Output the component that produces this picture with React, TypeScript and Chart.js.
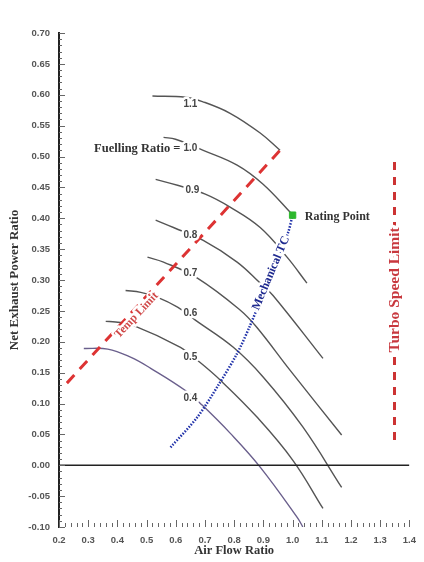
import React, { useEffect, useRef } from 'react';
import { Chart, registerables } from 'chart.js';
Chart.register(...registerables);

// ---- data ----
const xTicksMin = 0.2;
const xTicksMax = 1.4;
const yTicksMin = -0.1;
const yTicksMax = 0.7;

const fuelRatios = ['1.1', '1.0', '0.9', '0.8', '0.7', '0.6', '0.5', '0.4'];

const curve11 = [[0.520, 0.598], [0.633, 0.596], [0.691, 0.589], [0.786, 0.570], [0.889, 0.538], [0.957, 0.510]];
const curve10 = [[0.558, 0.531], [0.599, 0.528], [0.694, 0.510], [0.810, 0.486], [0.899, 0.455], [1.001, 0.405]];
const curve09 = [[0.531, 0.463], [0.609, 0.453], [0.701, 0.439], [0.786, 0.418], [0.889, 0.385], [0.981, 0.337], [1.049, 0.295]];
const curve08 = [[0.531, 0.397], [0.592, 0.385], [0.694, 0.364], [0.810, 0.329], [0.889, 0.295], [0.933, 0.275], [1.104, 0.173]];
const curve07 = [[0.503, 0.337], [0.558, 0.329], [0.674, 0.303], [0.821, 0.251], [0.878, 0.223], [0.991, 0.154], [1.168, 0.049]];
const curve06 = [[0.428, 0.283], [0.480, 0.280], [0.538, 0.272], [0.606, 0.256], [0.667, 0.235], [0.797, 0.191], [0.899, 0.143], [1.035, 0.062], [1.168, -0.036]];
const curve05 = [[0.360, 0.233], [0.394, 0.232], [0.452, 0.227], [0.616, 0.191], [0.674, 0.170], [0.752, 0.138], [0.878, 0.078], [1.001, 0.008], [1.104, -0.070]];
const curve04 = [[0.285, 0.189], [0.367, 0.188], [0.445, 0.175], [0.514, 0.157], [0.633, 0.121], [0.691, 0.097], [0.786, 0.052], [0.889, -0.003], [1.018, -0.086], [1.035, -0.100]];
const fuelCurves = [curve11, curve10, curve09, curve08, curve07, curve06, curve05, curve04];

// label anchor (data coords) for each fuelling ratio
const fuelLabelX = [0.650, 0.650, 0.657, 0.650, 0.650, 0.650, 0.650, 0.650];
const fuelLabelY = [0.585, 0.513, 0.445, 0.372, 0.311, 0.246, 0.175, 0.109];

const tempLimit = [[0.227, 0.133], [0.957, 0.510]];
const turboLimit = [[1.349, 0.491], [1.349, 0.037]];
const mechanicalTC = [[0.582, 0.029], [0.674, 0.078], [0.746, 0.130], [0.810, 0.181], [0.855, 0.227], [0.919, 0.301], [0.984, 0.376], [1.000, 0.405]];
const ratingPoint = [[1.000, 0.405]];
const zeroLine = [[0.2, 0], [1.4, 0]];

const tempLimitLabel = { text: 'Temp Limit', x: 0.466, y: 0.243 };
const mechanicalLabel = { text: 'Mechanical TC', x: 0.926, y: 0.311 };
const turboLabel = { text: 'Turbo Speed Limit', x: 1.349, y: 0.284 };
const ratingLabel = { text: 'Rating Point', x: 1.042, y: 0.402 };

const toPts = (a: number[][]) => a.map(([x, y]) => ({ x, y }));

const SERIF = '"Liberation Serif", "DejaVu Serif", serif';
const SANS = '"Liberation Sans", Arial, sans-serif';

const tickPlugin = {
  id: 'innerTicks',
  afterDraw(chart: any) {
    const { ctx, scales: { x, y }, chartArea } = chart;
    ctx.save();
    ctx.strokeStyle = '#666';
    ctx.lineWidth = 1;
    ctx.beginPath();
    for (let i = 0; i <= 80; i++) {
      const v = yTicksMin + i * 0.01;
      const py = Math.round(y.getPixelForValue(v)) + 0.5;
      const len = i % 5 === 0 ? 6 : 3;
      ctx.moveTo(chartArea.left, py);
      ctx.lineTo(chartArea.left + len, py);
    }
    for (let i = 0; i <= 60; i++) {
      const v = xTicksMin + i * 0.02;
      const px = Math.round(x.getPixelForValue(v)) + 0.5;
      const len = i % 5 === 0 ? 7 : 4;
      ctx.moveTo(px, chartArea.bottom);
      ctx.lineTo(px, chartArea.bottom - len);
    }
    ctx.stroke();
    ctx.restore();
  },
};

const labelPlugin = {
  id: 'labels',
  afterDatasetsDraw(chart: any) {
    const { ctx, scales: { x, y } } = chart;
    const draw = (text: string, dx: number, dy: number, font: string, color: string, rot = 0, align: CanvasTextAlign = 'center', halo = 5) => {
      const px = x.getPixelForValue(dx);
      const py = y.getPixelForValue(dy);
      ctx.save();
      ctx.translate(px, py);
      ctx.rotate((rot * Math.PI) / 180);
      ctx.font = font;
      ctx.textAlign = align;
      ctx.textBaseline = 'middle';
      ctx.lineJoin = 'round';
      ctx.strokeStyle = '#fff';
      ctx.lineWidth = halo;
      ctx.strokeText(text, 0, 0);
      ctx.fillStyle = color;
      ctx.fillText(text, 0, 0);
      ctx.restore();
    };
    fuelRatios.forEach((r, i) => {
      draw(r, fuelLabelX[i], fuelLabelY[i], `bold 10px ${SANS}`, '#444');
      if (i === 1) {
        const off = 10 / (x.getPixelForValue(1) - x.getPixelForValue(0));
        draw('Fuelling Ratio =', fuelLabelX[i] - off, fuelLabelY[i], `bold 12.5px ${SERIF}`, '#333', 0, 'right');
      }
    });
    draw(tempLimitLabel.text, tempLimitLabel.x, tempLimitLabel.y, `bold 11.5px ${SERIF}`, '#d04848', -47);
    draw(mechanicalLabel.text, mechanicalLabel.x, mechanicalLabel.y, `bold 12px ${SERIF}`, '#1f2a8f', -67);
    draw(turboLabel.text, turboLabel.x, turboLabel.y, `bold 15.5px ${SERIF}`, '#c8383e', -90, 'center', 6);
    draw(ratingLabel.text, ratingLabel.x, ratingLabel.y, `bold 12px ${SERIF}`, '#333', 0, 'left');
  },
};

export default function App() {
  const ref = useRef<HTMLCanvasElement | null>(null);
  useEffect(() => {
    if (!ref.current) return;
    const curveDatasets = fuelCurves.map((c, i) => ({
      data: toPts(c),
      borderColor: i === 7 ? '#6a5f8c' : '#555',
      borderWidth: 1.4,
      pointRadius: 0,
      tension: 0.4,
      fill: false,
      order: 5,
    }));
    const chart = new Chart(ref.current, {
      type: 'line',
      data: {
        datasets: [
          { data: toPts(ratingPoint), showLine: false, pointStyle: 'rect', pointRadius: 4.5, backgroundColor: '#2db82d', borderColor: '#2db82d', order: 0 } as any,
          { data: toPts(mechanicalTC), borderColor: '#2233aa', borderWidth: 2.5, borderDash: [1.5, 1.5], pointRadius: 0, tension: 0.3, order: 1 },
          { data: toPts(tempLimit), borderColor: '#dd3333', borderWidth: 3, borderDash: [11, 8], pointRadius: 0, order: 2 },
          { data: toPts(turboLimit), borderColor: '#cc3333', borderWidth: 3, borderDash: [8, 7], pointRadius: 0, order: 2 },
          { data: toPts(zeroLine), borderColor: '#222', borderWidth: 1.5, pointRadius: 0, order: 3 },
          ...curveDatasets,
        ],
      },
      options: {
        animation: false,
        responsive: true,
        maintainAspectRatio: false,
        layout: { padding: { top: 33, right: 14, left: 0, bottom: 0 } },
        plugins: { legend: { display: false }, tooltip: { enabled: false } },
        scales: {
          x: {
            type: 'linear',
            min: xTicksMin,
            max: xTicksMax,
            grid: { display: false, drawTicks: false },
            border: { display: false },
            ticks: {
              stepSize: 0.1,
              padding: 8,
              color: '#555',
              font: { family: SANS, weight: 'bold', size: 9.5 },
              callback: (v: any) => Number(v).toFixed(1),
            },
            title: {
              display: true,
              text: 'Air Flow Ratio',
              color: '#333',
              font: { family: SERIF, weight: 'bold', size: 12.5 },
              padding: { top: 0, bottom: 4 },
            },
            afterFit: (s: any) => { s.height = 35; },
          },
          y: {
            type: 'linear',
            min: yTicksMin,
            max: yTicksMax,
            grid: { display: false, drawTicks: false },
            border: { display: true, color: '#222', width: 2 },
            ticks: {
              stepSize: 0.05,
              padding: 9,
              color: '#555',
              font: { family: SANS, weight: 'bold', size: 9.5 },
              callback: (v: any) => (Math.abs(Number(v)) < 1e-9 ? 0 : Number(v)).toFixed(2),
            },
            title: {
              display: true,
              text: 'Net Exhaust Power Ratio',
              color: '#333',
              font: { family: SERIF, weight: 'bold', size: 13 },
              padding: { top: 7, bottom: 0 },
            },
            afterFit: (s: any) => { s.width = 59; },
          },
        },
      } as any,
      plugins: [tickPlugin, labelPlugin],
    });
    return () => chart.destroy();
  }, []);
  return (
    <div style={{ position: 'absolute', left: 0, top: 0, width: 424, height: 562, background: '#fff' }}>
      <canvas ref={ref} />
    </div>
  );
}
